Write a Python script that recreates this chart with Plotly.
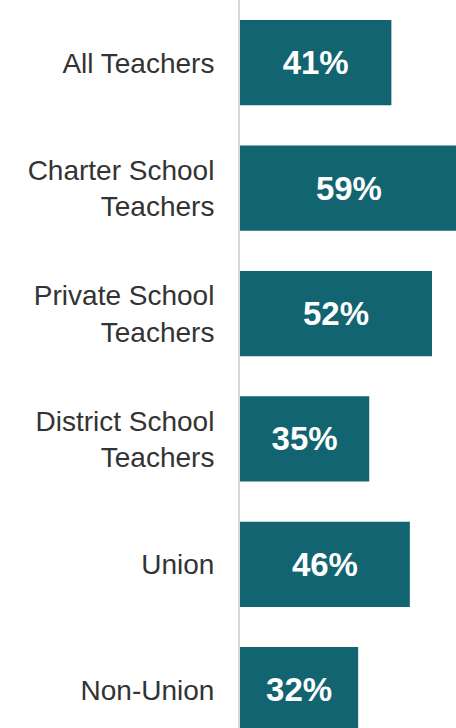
import plotly.graph_objects as go

categories = ["All Teachers", "Charter School<br>Teachers", "Private School<br>Teachers",
              "District School<br>Teachers", "Union", "Non-Union"]
values = [41, 59, 52, 35, 46, 32]
labels = [f"{v}%" for v in values]

fig = go.Figure(go.Bar(
    x=values, y=categories, orientation="h",
    marker=dict(color="#126470", line=dict(width=0)),
    text=labels, textposition="inside", insidetextanchor="middle",
    textfont=dict(family="Liberation Sans", size=33, color="white", weight="bold"),
    textangle=0, cliponaxis=True, hoverinfo="skip",
))

fig.update_layout(
    width=456, height=728,
    margin=dict(l=240, r=0, t=0, b=0),
    paper_bgcolor="white", plot_bgcolor="white",
    bargap=0.32,
    showlegend=False,
    uniformtext=dict(minsize=10, mode="show"),
    font=dict(family="Liberation Sans", size=28, color="#333333"),
)
fig.update_xaxes(range=[0, 58.5], visible=False, showgrid=False, zeroline=False)
fig.update_yaxes(range=[5.305, -0.5], showgrid=False, zeroline=False,
                 showline=True, linecolor="#d9d9d9", linewidth=2,
                 ticks="", ticklabelstandoff=18,
                 tickfont=dict(family="Liberation Sans", size=28, color="#333333"))

fig.write_html("out.html", config={"displayModeBar": False},
               post_script="document.body.style.margin='0';document.body.style.overflow='hidden';")
